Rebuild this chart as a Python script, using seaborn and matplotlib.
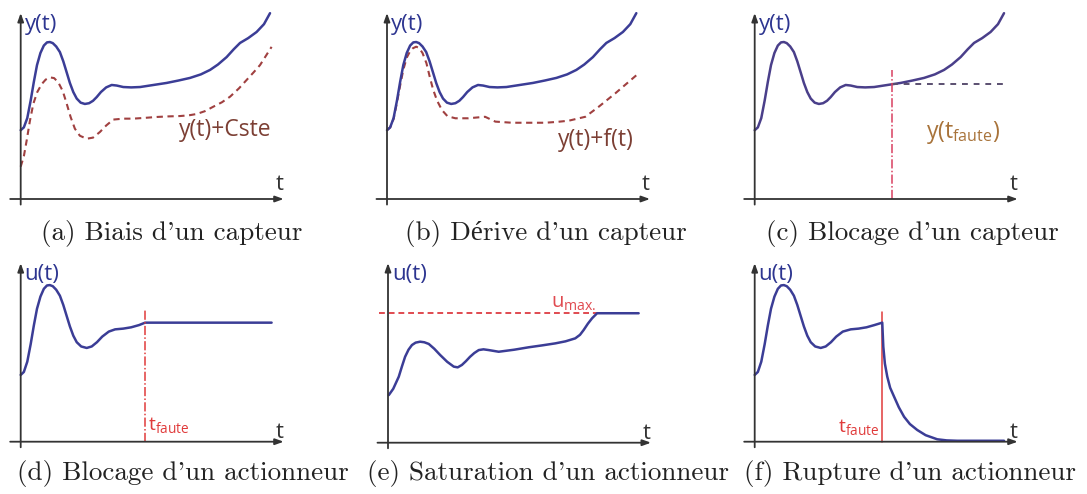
import matplotlib.pyplot as plt
import seaborn as sns

sns.set_style("white")
plt.rcParams["font.family"] = ["Open Sans", "DejaVu Sans"]
plt.rcParams["mathtext.fontset"] = "custom"
plt.rcParams["mathtext.rm"] = "Open Sans"
plt.rcParams["mathtext.it"] = "Open Sans"

# normal response y(t), panels a, b, c
t_base = [0, 0.12, 0.25, 0.38, 0.5, 0.62, 0.75, 0.88, 1.0, 1.11, 1.22, 1.35, 1.49, 1.62,
          1.75, 1.87, 2.0, 2.13, 2.28, 2.44, 2.6, 2.75, 2.89, 3.05, 3.25, 3.46, 3.65, 3.9,
          4.2, 4.54, 5.0, 5.55, 6.0, 6.44, 6.85, 7.2, 7.5, 7.83, 8.1, 8.34, 8.65, 8.97,
          9.25, 9.48]
y_base = [3.7, 3.85, 4.35, 5.3, 6.3, 7.2, 7.85, 8.25, 8.42, 8.44, 8.38, 8.2, 7.9, 7.4,
          6.8, 6.24, 5.75, 5.4, 5.18, 5.11, 5.15, 5.28, 5.48, 5.75, 6.0, 6.13, 6.1, 6.02,
          6.0, 6.02, 6.12, 6.24, 6.37, 6.51, 6.7, 6.94, 7.23, 7.63, 8.05, 8.39, 8.65, 8.98,
          9.4, 9.99]

# (a) biais : y(t)+Cste
t_bias = [0, 0.12, 0.23, 0.35, 0.48, 0.63, 0.8, 0.95, 1.11, 1.27, 1.43, 1.6, 1.75, 1.9,
          2.06, 2.25, 2.51, 2.75, 3.01, 3.25, 3.52, 3.9, 4.28, 4.7, 5.17, 5.6, 6.06, 6.4,
          6.69, 7.0, 7.32, 7.65, 7.96, 8.3, 8.59, 8.85, 9.1, 9.54]
y_bias = [1.74, 2.3, 3.17, 4.2, 5.12, 5.75, 6.18, 6.42, 6.54, 6.5, 6.27, 5.8, 5.12, 4.4,
          3.78, 3.4, 3.24, 3.3, 3.6, 3.95, 4.27, 4.32, 4.32, 4.36, 4.41, 4.44, 4.46, 4.5,
          4.57, 4.72, 4.96, 5.2, 5.5, 5.95, 6.4, 6.8, 7.2, 8.18]

# (b) derive : y(t)+f(t)
t_drift = [0, 0.12, 0.25, 0.38, 0.5, 0.62, 0.75, 0.88, 0.98, 1.11, 1.22, 1.35, 1.5, 1.62,
           1.75, 1.9, 2.09, 2.3, 2.6, 3.1, 3.4, 3.73, 4.12, 4.75, 5.4, 6.02, 6.5, 6.91,
           7.54, 8.05, 8.68, 9.57]
y_drift = [3.7, 3.85, 4.3, 5.2, 6.1, 6.95, 7.6, 7.95, 8.1, 8.19, 8.12, 7.85, 7.3, 6.6,
           5.9, 5.3, 4.78, 4.45, 4.34, 4.34, 4.38, 4.42, 4.16, 4.1, 4.1, 4.1, 4.15, 4.21,
           4.42, 4.96, 5.68, 6.76]

# (c) blocage capteur
t_fault_c = [5.23, 5.23]
y_fault_c = [0, 6.94]
t_hold_c = [5.23, 9.59]
y_hold_c = [6.2, 6.2]

# (d) blocage actionneur
t_d = [0, 0.12, 0.25, 0.38, 0.5, 0.62, 0.75, 0.88, 1.0, 1.11, 1.22, 1.35, 1.49, 1.62,
       1.75, 1.87, 2.0, 2.13, 2.3, 2.51, 2.7, 2.9, 3.1, 3.35, 3.59, 3.9, 4.2, 4.5, 4.73, 9.54]
u_d = [3.59, 3.75, 4.3, 5.25, 6.25, 7.15, 7.8, 8.22, 8.4, 8.42, 8.36, 8.17, 7.85, 7.35,
       6.75, 6.2, 5.7, 5.35, 5.12, 5.04, 5.12, 5.35, 5.65, 5.92, 6.04, 6.08, 6.15, 6.27,
       6.4, 6.4]
t_fault_d = [4.73, 4.73]
y_fault_d = [0, 7.08]

# (e) saturation actionneur
t_e = [0.03, 0.2, 0.41, 0.53, 0.65, 0.78, 0.91, 1.05, 1.22, 1.38, 1.55, 1.76, 1.98, 2.25,
       2.5, 2.65, 2.81, 2.96, 3.12, 3.28, 3.45, 3.63, 3.83, 4.21, 4.8, 5.35, 5.85, 6.36,
       6.75, 7.12, 7.3, 7.44, 7.6, 7.76, 7.95, 9.53]
u_e = [2.56, 2.9, 3.55, 4.1, 4.62, 5.0, 5.25, 5.38, 5.43, 5.4, 5.31, 5.05, 4.72, 4.35,
       4.09, 4.05, 4.18, 4.38, 4.62, 4.82, 4.98, 5.02, 4.98, 4.89, 5.0, 5.13, 5.23, 5.34,
       5.45, 5.61, 5.8, 6.06, 6.4, 6.69, 6.96, 6.96]
t_umax = [-0.35, 7.95]
u_max = [6.96, 6.96]

# (f) rupture actionneur
t_f = [0, 0.12, 0.25, 0.38, 0.5, 0.62, 0.75, 0.88, 1.0, 1.11, 1.22, 1.35, 1.49, 1.62,
       1.75, 1.87, 2.0, 2.13, 2.3, 2.51, 2.7, 2.9, 3.1, 3.35, 3.65, 3.95, 4.25, 4.55, 4.85,
       4.89, 4.95, 5.04, 5.15, 5.3, 5.48, 5.68, 5.9, 6.18, 6.5, 6.94, 7.3, 7.7, 9.48]
u_f = [3.59, 3.75, 4.3, 5.25, 6.25, 7.15, 7.8, 8.22, 8.4, 8.42, 8.36, 8.17, 7.85, 7.35,
       6.75, 6.2, 5.7, 5.35, 5.12, 5.04, 5.12, 5.35, 5.65, 5.92, 6.04, 6.08, 6.15, 6.27,
       6.4, 5.11, 4.2, 3.5, 2.9, 2.42, 1.85, 1.34, 0.95, 0.63, 0.35, 0.13, 0.07, 0.05, 0.05]
t_fault_f = [4.85, 4.85]
y_fault_f = [0, 6.96]

captions = ["(a) Biais d'un capteur", "(b) Dérive d'un capteur", "(c) Blocage d'un capteur",
            "(d) Blocage d'un actionneur", "(e) Saturation d'un actionneur",
            "(f) Rupture d'un actionneur"]

blue = "#3b3d96"
W, H = 1087, 494
fig = plt.figure(figsize=(W / 100, H / 100), dpi=100)


def line(ax, x, y, **kw):
    sns.lineplot(x=x, y=y, ax=ax, sort=False, estimator=None, **kw)


# axis origins in pixels (x from left, y from top) and height of the y arrow
origins = [(20.7, 199), (387, 199), (754.7, 199), (20.7, 441.7), (388, 442.7), (754.7, 441.7)]
ytops = [10.0, 10.0, 10.0, 9.6, 9.66, 9.6]
sx, sy = 26.3, 18.6
axes = []
for i, ((ox, oy), ytop) in enumerate(zip(origins, ytops)):
    ax = fig.add_axes([(ox - 14) / W, 1 - (oy + 12) / H, 284 / W, 204 / H])
    ax.set_xlim(-14 / sx, 270 / sx)
    ax.set_ylim(-12 / sy, 192 / sy)
    ax.axis("off")
    arrow = dict(arrowstyle="-|>,head_length=0.5,head_width=0.18", color="#333333", lw=1.3,
                 shrinkA=0, shrinkB=0)
    ax.annotate("", xy=(10.0, 0), xytext=(-0.4, 0), arrowprops=arrow)
    ax.annotate("", xy=(0, ytop), xytext=(0, -0.3), arrowprops=arrow)
    lab = "y(t)" if i < 3 else "u(t)"
    ax.text(0.15, ytop - 0.6, lab, color="#2d3590", fontsize=16, va="center", ha="left")
    ax.text(9.7, 0.2 if i < 3 else -0.05, "t", color="#333333", fontsize=16,
            ha="left", va="bottom")
    axes.append(ax)

lw = 1.8
red_dash = "#a04040"
# (a)
line(axes[0], t_base, y_base, color=blue, lw=lw)
line(axes[0], t_bias, y_bias, color=red_dash, lw=1.5, linestyle=(0, (3, 2.2)))
axes[0].text(6.0, 3.71, "y(t)+Cste", color="#7c3f34", fontsize=16.5, va="center")

# (b)
line(axes[1], t_drift, y_drift, color=red_dash, lw=1.5, linestyle=(0, (3, 2.2)))
line(axes[1], t_base, y_base, color=blue, lw=lw)
axes[1].text(6.5, 3.17, "y(t)+f(t)", color="#7c3f34", fontsize=16.5, va="center")

# (c)
line(axes[2], t_base, y_base, color="#4a3f8a", lw=lw)
line(axes[2], t_hold_c, y_hold_c, color="#5a4f70", lw=1.4, linestyle=(0, (3, 3)))
line(axes[2], t_fault_c, y_fault_c, color="#d84060", lw=1.1,
     linestyle=(0, (6, 1.5, 1, 1.5)))
axes[2].text(6.5, 3.55, r"y(t$_{\mathrm{faute}}$)", color="#a8733a", fontsize=16.5,
             va="center")

# (d)
line(axes[3], t_d, u_d, color=blue, lw=lw)
line(axes[3], t_fault_d, y_fault_d, color="#e03a3a", lw=1.1,
     linestyle=(0, (6, 1.5, 1, 1.5)))
axes[3].text(4.84, 0.9, r"t$_{\mathrm{faute}}$", color="#e03a3a", fontsize=14, va="center")

# (e)
line(axes[4], t_umax, u_max, color="#e04a50", lw=1.4, linestyle=(0, (3, 2)))
line(axes[4], t_e, u_e, color=blue, lw=lw)
axes[4].text(6.2, 7.5, r"u$_{\mathrm{max.}}$", color="#e04a50", fontsize=14.5,
             va="center")

# (f)
line(axes[5], t_fault_f, y_fault_f, color="#e03a3a", lw=1.1)
line(axes[5], t_f, u_f, color=blue, lw=lw)
axes[5].text(4.73, 0.79, r"t$_{\mathrm{faute}}$", color="#e03a3a", fontsize=14,
             va="center", ha="right")

# captions
cap_pos = [(172, 233), (546, 233), (912, 233), (183, 473), (548, 473), (910, 473)]
for (cx, cy), cap in zip(cap_pos, captions):
    fig.text(cx / W, 1 - cy / H, cap, fontsize=19.5, ha="center", va="center",
             color="#222222", family=["cmr10", "Liberation Serif"])

fig.savefig("out.png", dpi=100)
